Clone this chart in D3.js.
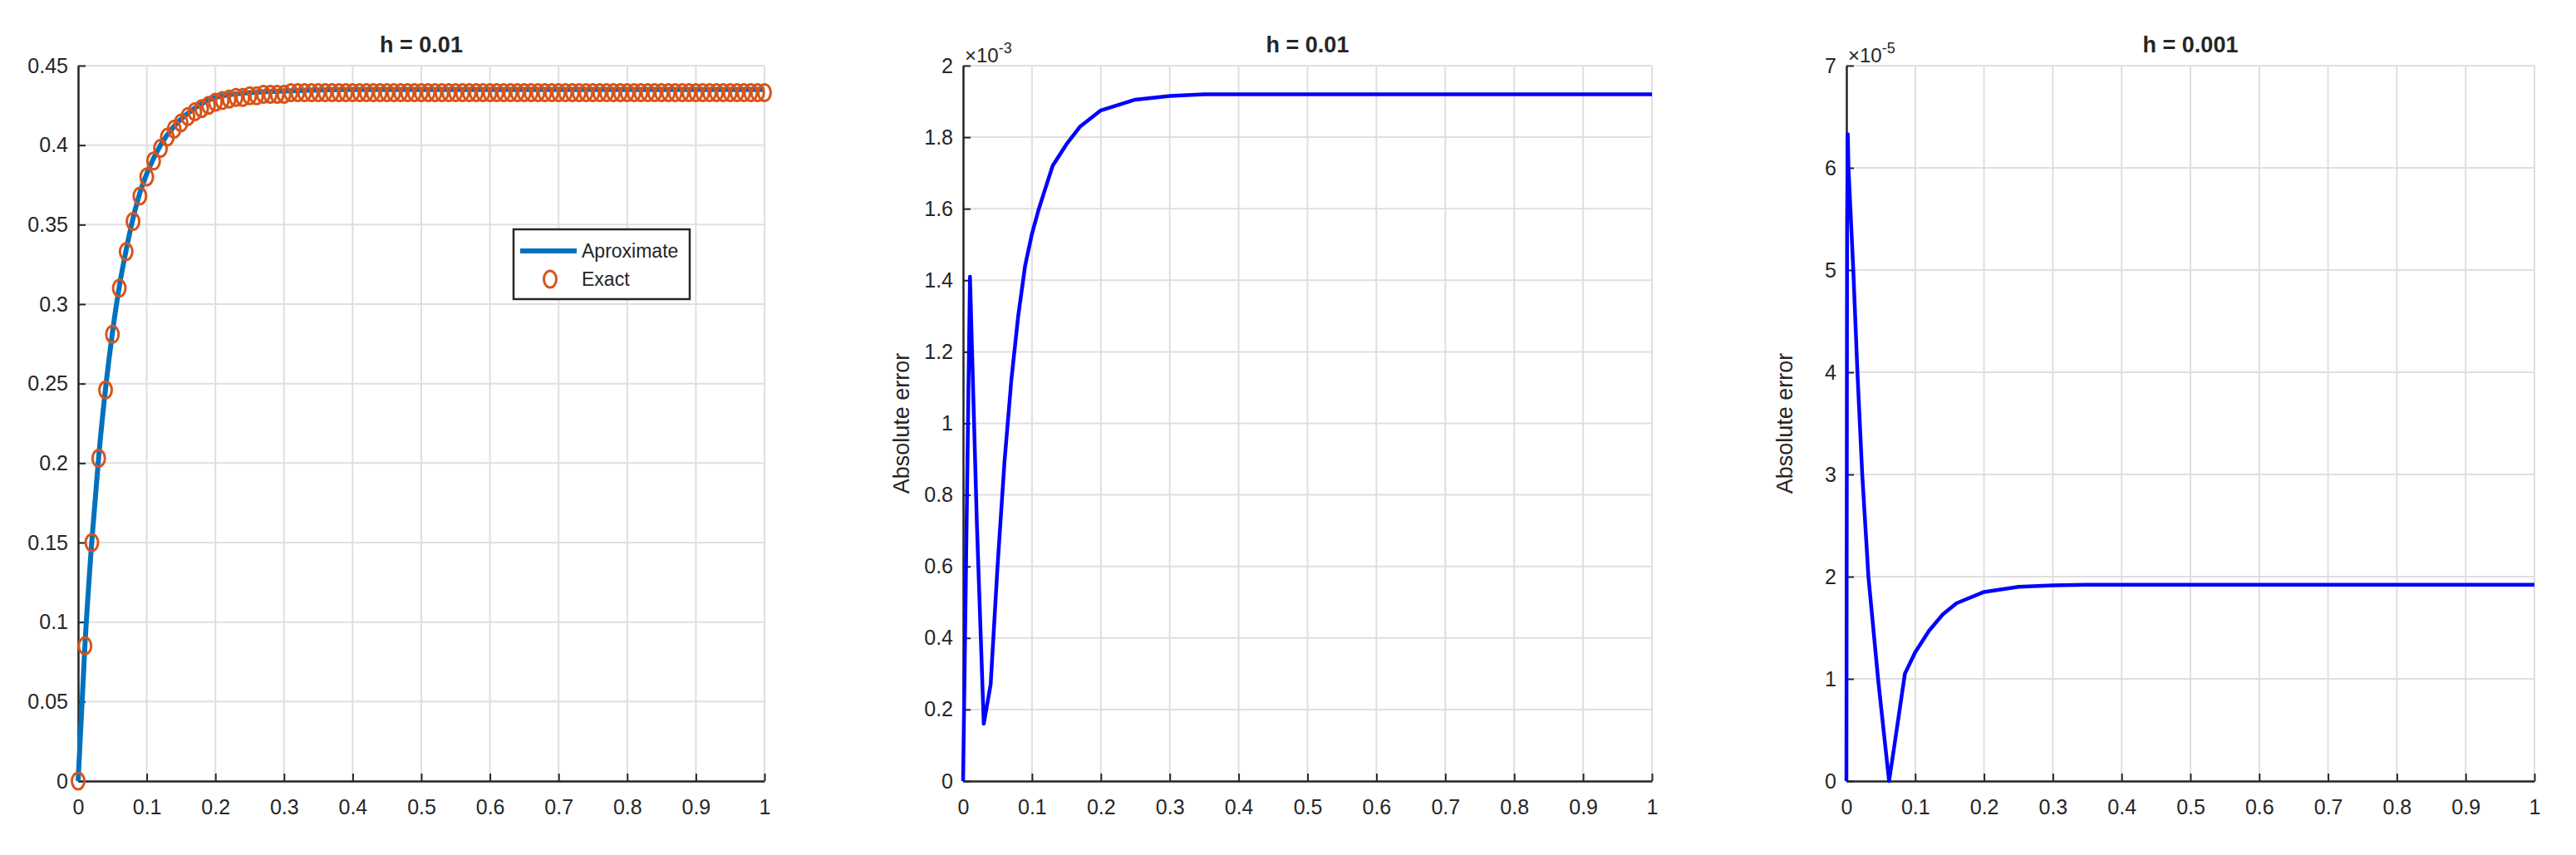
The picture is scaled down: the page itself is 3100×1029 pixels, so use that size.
<!DOCTYPE html>
<html><head><meta charset="utf-8">
<script src="https://cdn.jsdelivr.net/npm/d3@7"></script>
<style>body{margin:0;background:#fff}svg text{fill:#262626}</style>
</head><body>
<svg id="c" width="3100" height="1029"></svg>
<script>
// panel 1: exact solution at h = 0.01 (markers), t = 0..1
var exactT = d3.range(0, 101).map(function(i) { return i / 100; });
var exactY = [0,0.085,0.150,0.203,0.246,0.281,0.310,0.333,0.352,0.368,0.380,0.390,0.398,0.405,0.410,0.414,0.418,0.421,0.423,0.425,0.427,
  0.428,0.429,0.430,0.430,0.431,0.431,0.432,0.432,0.432,0.432,0.433,0.433,0.433,0.433,0.433,0.433,0.433,0.433,0.433,0.433,
  0.433,0.433,0.433,0.433,0.433,0.433,0.433,0.433,0.433,0.433,0.433,0.433,0.433,0.433,0.433,0.433,0.433,0.433,0.433,0.433,
  0.433,0.433,0.433,0.433,0.433,0.433,0.433,0.433,0.433,0.433,0.433,0.433,0.433,0.433,0.433,0.433,0.433,0.433,0.433,0.433,
  0.433,0.433,0.433,0.433,0.433,0.433,0.433,0.433,0.433,0.433,0.433,0.433,0.433,0.433,0.433,0.433,0.433,0.433,0.433,0.433];
// approximate solution (line)
var approxT = [0,0.01,0.02,0.03,0.04,0.05,0.06,0.07,0.08,0.09,0.10,0.12,0.14,0.16,0.18,0.20,0.25,0.30,0.40,1.0];
var approxY = [0,0.086,0.151,0.204,0.247,0.282,0.311,0.334,0.354,0.370,0.382,0.400,0.412,0.420,0.426,0.430,0.433,0.434,0.435,0.435];

// panel 2: absolute error, h = 0.01 (x1e-3)
var err1T = [0,0.01,0.02,0.03,0.04,0.05,0.06,0.07,0.08,0.09,0.10,0.11,0.12,0.13,0.15,0.17,0.20,0.25,0.30,0.35,0.40,1.0];
var err1Y = [0,1.41,0.72,0.16,0.27,0.60,0.89,1.12,1.30,1.44,1.53,1.60,1.66,1.72,1.78,1.83,1.875,1.905,1.915,1.92,1.92,1.92];

// panel 3: absolute error, h = 0.001 (x1e-5)
var err2T = [0,0.001,0.002,0.003,0.01,0.016,0.023,0.032,0.046,0.062,0.07,0.085,0.10,0.12,0.14,0.16,0.20,0.25,0.30,0.35,1.0];
var err2Y = [0,5.5,6.33,6.0,5.0,4.0,3.0,2.0,1.0,0,0.36,1.05,1.26,1.47,1.63,1.74,1.85,1.90,1.915,1.92,1.92];

var xTicks = d3.range(0, 11).map(function(i) { return i / 10; });
var svg = d3.select("#c");
var plotTop = 79, plotBottom = 940;

function panel(o) {
  var g = svg.append("g");
  var x = d3.scaleLinear().domain([0, 1]).range([o.left, o.right]);
  var y = d3.scaleLinear().domain([0, o.ymax]).range([plotBottom, plotTop]);
  var font = o.font;

  g.selectAll(".gx").data(xTicks).enter().append("line")
    .attr("x1", x).attr("x2", x).attr("y1", plotTop).attr("y2", plotBottom)
    .attr("stroke", "#dfdfdf").attr("stroke-width", 2);
  g.selectAll(".gy").data(o.yTicks).enter().append("line")
    .attr("y1", y).attr("y2", y).attr("x1", o.left).attr("x2", o.right)
    .attr("stroke", "#dfdfdf").attr("stroke-width", 2);

  var ax = g.append("g").attr("transform", "translate(0," + plotBottom + ")")
    .call(d3.axisBottom(x).tickValues(xTicks).tickSizeInner(-9).tickSizeOuter(0).tickPadding(22)
      .tickFormat(function(d) { return d === 0 || d === 1 ? d : d3.format(".1f")(d); }));
  var ay = g.append("g").attr("transform", "translate(" + o.left + ",0)")
    .call(d3.axisLeft(y).tickValues(o.yTicks).tickSizeInner(-9).tickSizeOuter(0).tickPadding(12)
      .tickFormat(o.fmt));
  [ax, ay].forEach(function(a) {
    a.select(".domain").attr("stroke", "#262626").attr("stroke-width", 2.5);
    a.selectAll(".tick line").attr("stroke", "#262626").attr("stroke-width", 2);
    a.selectAll("text").attr("font-family", font).attr("font-size", 25).attr("fill", "#262626");
  });

  g.append("text").attr("x", (o.left + o.right) / 2).attr("y", plotTop - 16)
    .attr("text-anchor", "middle").attr("font-family", font).attr("font-weight", "bold")
    .attr("font-size", 27).attr("fill", "#000").text(o.title);

  if (o.exp) {
    var t = g.append("text").attr("x", o.left + 2).attr("y", plotTop - 4)
      .attr("font-family", font).attr("font-size", 24);
    t.append("tspan").text("\u00d710");
    t.append("tspan").attr("dy", -11).attr("font-size", 18).text(o.exp);
  }
  if (o.ylabel) {
    g.append("text").attr("transform", "translate(" + (o.left - 65) + "," + ((plotTop + plotBottom) / 2) + ") rotate(-90)")
      .attr("text-anchor", "middle").attr("font-family", font).attr("font-size", 27).text(o.ylabel);
  }
  return { g: g, x: x, y: y };
}

// panel 1
var p1 = panel({ left: 94, right: 920, ymax: 0.45, yTicks: d3.range(0, 10).map(function(i) { return i * 0.05; }),
  fmt: function(d) { return d === 0 ? "0" : d3.format(".2~f")(d); }, title: "h = 0.01",
  font: "'Liberation Sans Narrow', 'Liberation Sans', Arial" });
p1.g.append("path").datum(d3.zip(approxT, approxY))
  .attr("d", d3.line().x(function(d) { return p1.x(d[0]); }).y(function(d) { return p1.y(d[1]); }).curve(d3.curveMonotoneX))
  .attr("fill", "none").attr("stroke", "#0072BD").attr("stroke-width", 6);
p1.g.selectAll(".m").data(d3.zip(exactT, exactY)).enter().append("ellipse")
  .attr("cx", function(d) { return p1.x(d[0]); }).attr("cy", function(d) { return p1.y(d[1]); })
  .attr("rx", 7.5).attr("ry", 10).attr("fill", "none").attr("stroke", "#D95319").attr("stroke-width", 3);

// legend
var lg = p1.g.append("g").attr("transform", "translate(618,276)");
lg.append("rect").attr("width", 212).attr("height", 84).attr("fill", "#fff").attr("stroke", "#262626").attr("stroke-width", 2.5);
lg.append("line").attr("x1", 8).attr("x2", 76).attr("y1", 26).attr("y2", 26).attr("stroke", "#0072BD").attr("stroke-width", 6);
lg.append("text").attr("x", 82).attr("y", 34).attr("font-family", "'Liberation Sans Narrow', Arial").attr("font-size", 23).attr("fill", "#000").text("Aproximate");
lg.append("ellipse").attr("cx", 44).attr("cy", 60).attr("rx", 7.5).attr("ry", 10).attr("fill", "none").attr("stroke", "#D95319").attr("stroke-width", 3);
lg.append("text").attr("x", 82).attr("y", 68).attr("font-family", "'Liberation Sans Narrow', Arial").attr("font-size", 23).attr("fill", "#000").text("Exact");

// panel 2
var p2 = panel({ left: 1159, right: 1988, ymax: 2, yTicks: d3.range(0, 11).map(function(i) { return i * 0.2; }),
  fmt: function(d) { return d3.format(".1~f")(d); }, title: "h = 0.01", exp: "-3", ylabel: "Absolute error",
  font: "'Liberation Sans', Arial" });
p2.g.append("path").datum(d3.zip(err1T, err1Y))
  .attr("d", d3.line().x(function(d) { return p2.x(d[0]); }).y(function(d) { return p2.y(d[1]); }))
  .attr("fill", "none").attr("stroke", "#0000FF").attr("stroke-width", 4.5).attr("stroke-linejoin", "round");

// panel 3
var p3 = panel({ left: 2222, right: 3050, ymax: 7, yTicks: d3.range(0, 8),
  fmt: function(d) { return d; }, title: "h = 0.001", exp: "-5", ylabel: "Absolute error",
  font: "'Liberation Sans', Arial" });
p3.g.append("path").datum(d3.zip(err2T, err2Y))
  .attr("d", d3.line().x(function(d) { return p3.x(d[0]); }).y(function(d) { return p3.y(d[1]); }))
  .attr("fill", "none").attr("stroke", "#0000FF").attr("stroke-width", 4.5).attr("stroke-linejoin", "round");
</script>
</body></html>
